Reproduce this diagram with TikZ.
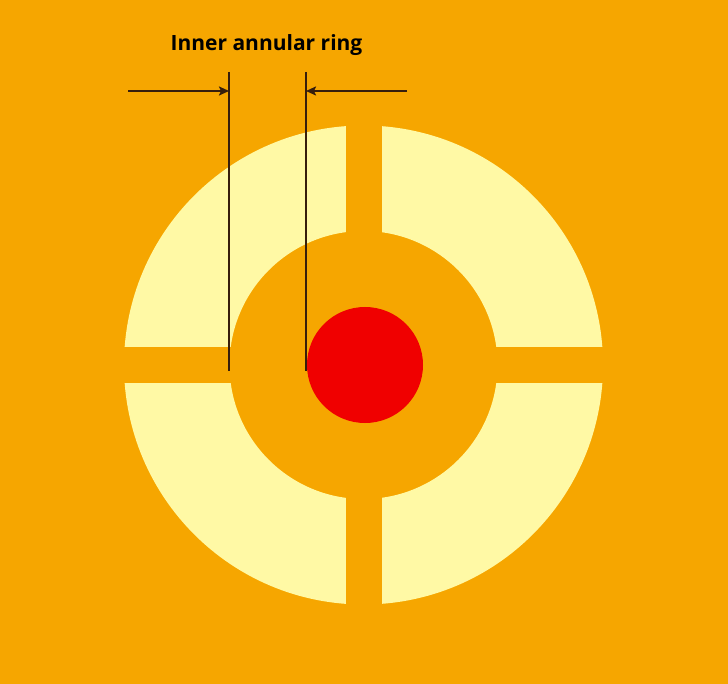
\documentclass[tikz,border=0pt]{standalone}
\usepackage{fontspec}
\setmainfont{Open Sans}
\usetikzlibrary{arrows.meta}
\definecolor{bgorange}{RGB}{246,166,0}
\definecolor{ringyellow}{RGB}{255,249,165}
\definecolor{dotred}{RGB}{240,0,0}
\definecolor{dimline}{RGB}{55,30,12}
\tikzset{
  dimstyle/.style={draw=dimline, line width=2.2pt},
  dimarrow/.style={dimstyle, -{Stealth[length=10pt,width=9pt,inset=2pt]}},
  labelstyle/.style={font=\fontsize{21}{25}\selectfont\bfseries, text=black, inner sep=0pt, anchor=base}
}
\begin{document}
\begin{tikzpicture}[x=1pt,y=-1pt]
\fill[bgorange] (0,0) rectangle (728,684);
\useasboundingbox (0,0) rectangle (728,684);
% ring
\fill[ringyellow, even odd rule] (363.5,365) circle[radius=239.5] (363.5,365) circle[radius=134];
% gaps
\fill[bgorange] (345.5,100) rectangle (381.5,630);
\fill[bgorange] (100,347.5) rectangle (630,383);
% red dot
\fill[dotred] (365,365) circle[radius=58];
% label
\node[labelstyle] (lbl) at (266.5,51) {Inner annular ring};
% dimension lines
\coordinate (l1) at (229,72);
\coordinate (l2) at (229,371);
\coordinate (r1) at (306,72);
\coordinate (r2) at (306,371);
\coordinate (la) at (128,91);
\coordinate (lt) at (229,91);
\coordinate (ra) at (407,91);
\coordinate (rt) at (306,91);
\draw[dimstyle] (l1) -- (l2);
\draw[dimstyle] (r1) -- (r2);
\draw[dimarrow] (la) -- (lt);
\draw[dimarrow] (ra) -- (rt);
\end{tikzpicture}
\end{document}
